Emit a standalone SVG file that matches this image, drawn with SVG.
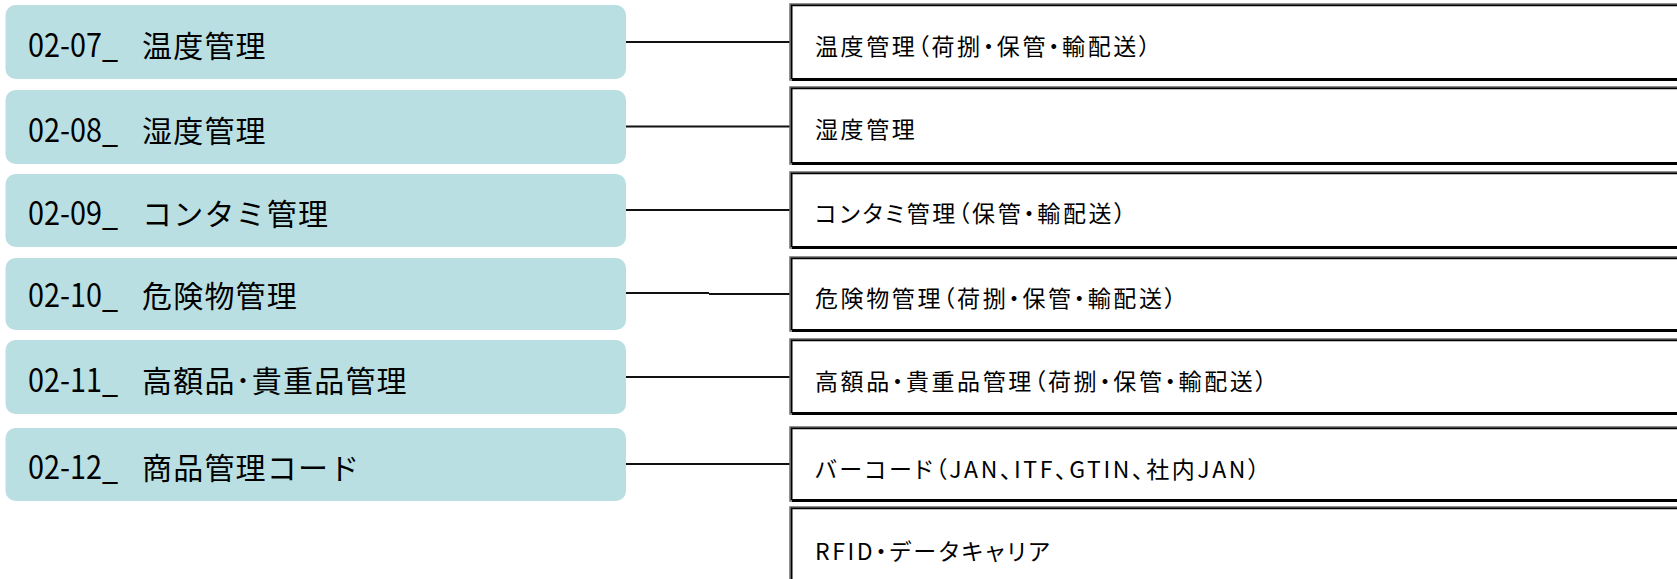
<svg xmlns="http://www.w3.org/2000/svg" width="1677" height="579" viewBox="0 0 1677 579">
<style>
.lb{fill:#badfe3;stroke:none}
.lt{font-family:"Noto Sans CJK JP","Noto Sans",sans-serif;font-size:30px;fill:#000;letter-spacing:1.2px}
.num{font-size:32px;letter-spacing:0}
.rb{fill:#fff;stroke:#6e6e6e;stroke-width:1.5}
.rk{fill:none;stroke:#000;stroke-width:1.8}
.rs{stroke:#000;stroke-width:3}
.rt{font-family:"Noto Sans CJK JP","Noto Sans",sans-serif;font-size:23px;fill:#000;letter-spacing:2.6px;font-feature-settings:"palt"}
.cn{fill:none;stroke:#111;stroke-width:2}
</style>
<rect width="1677" height="579" fill="#fff"/>
<g id="connectors">
<path class="cn" d="M626 42H791"/>
<path class="cn" d="M626 126.5H791"/>
<path class="cn" d="M626 210H791"/>
<path class="cn" d="M626 293H709M709 294H791"/>
<path class="cn" d="M626 377H791"/>
<path class="cn" d="M626 464H791"/>
</g>
<g id="n0207"><rect class="lb" x="5.5" y="5" width="620.5" height="74" rx="10"/><text class="lt" y="57"><tspan class="num" x="28" textLength="90" lengthAdjust="spacingAndGlyphs">02-07_</tspan><tspan x="142">温度管理</tspan></text></g>
<g id="n0208"><rect class="lb" x="5.5" y="90" width="620.5" height="74" rx="10"/><text class="lt" y="142"><tspan class="num" x="28" textLength="90" lengthAdjust="spacingAndGlyphs">02-08_</tspan><tspan x="142">湿度管理</tspan></text></g>
<g id="n0209"><rect class="lb" x="5.5" y="174" width="620.5" height="73" rx="10"/><text class="lt" y="225"><tspan class="num" x="28" textLength="90" lengthAdjust="spacingAndGlyphs">02-09_</tspan><tspan x="142">コンタミ管理</tspan></text></g>
<g id="n0210"><rect class="lb" x="5.5" y="258" width="620.5" height="72" rx="10"/><text class="lt" y="307"><tspan class="num" x="28" textLength="90" lengthAdjust="spacingAndGlyphs">02-10_</tspan><tspan x="142">危険物管理</tspan></text></g>
<g id="n0211"><rect class="lb" x="5.5" y="340" width="620.5" height="74" rx="10"/><text class="lt" y="392"><tspan class="num" x="28" textLength="90" lengthAdjust="spacingAndGlyphs">02-11_</tspan><tspan x="142">高額品･貴重品管理</tspan></text></g>
<g id="n0212"><rect class="lb" x="5.5" y="428" width="620.5" height="73" rx="10"/><text class="lt" y="479"><tspan class="num" x="28" textLength="90" lengthAdjust="spacingAndGlyphs">02-12_</tspan><tspan x="142">商品管理コード</tspan></text></g>

<g id="r1"><rect class="rb" x="790" y="4" width="1000" height="76"/><path class="rk" d="M791.6 79V5.4H1700"/><path class="rs" d="M792 79.5H1700"/><text class="rt" x="815" y="55">温度管理（荷捌・保管・輸配送）</text></g>
<g id="r2"><rect class="rb" x="790" y="87" width="1000" height="77"/><path class="rk" d="M791.6 163V88.4H1700"/><path class="rs" d="M792 163.5H1700"/><text class="rt" x="815" y="138">湿度管理</text></g>
<g id="r3"><rect class="rb" x="790" y="172" width="1000" height="76"/><path class="rk" d="M791.6 247V173.4H1700"/><path class="rs" d="M792 247.5H1700"/><text class="rt" x="815" y="222">コンタミ管理（保管・輸配送）</text></g>
<g id="r4"><rect class="rb" x="790" y="257" width="1000" height="74"/><path class="rk" d="M791.6 330V258.4H1700"/><path class="rs" d="M792 330.5H1700"/><text class="rt" x="815" y="307">危険物管理（荷捌・保管・輸配送）</text></g>
<g id="r5"><rect class="rb" x="790" y="339" width="1000" height="75"/><path class="rk" d="M791.6 413V340.4H1700"/><path class="rs" d="M792 413.5H1700"/><text class="rt" x="815" y="390">高額品・貴重品管理（荷捌・保管・輸配送）</text></g>
<g id="r6"><rect class="rb" x="790" y="427" width="1000" height="74"/><path class="rk" d="M791.6 500V428.4H1700"/><path class="rs" d="M792 500.5H1700"/><text class="rt" x="815" y="478">バーコード（JAN、ITF、GTIN、社内JAN）</text></g>
<g id="r7"><rect class="rb" x="790" y="507" width="1000" height="100"/><path class="rk" d="M791.6 600V508.4H1700"/><text class="rt" x="815" y="560">RFID・データキャリア</text></g>
</svg>
